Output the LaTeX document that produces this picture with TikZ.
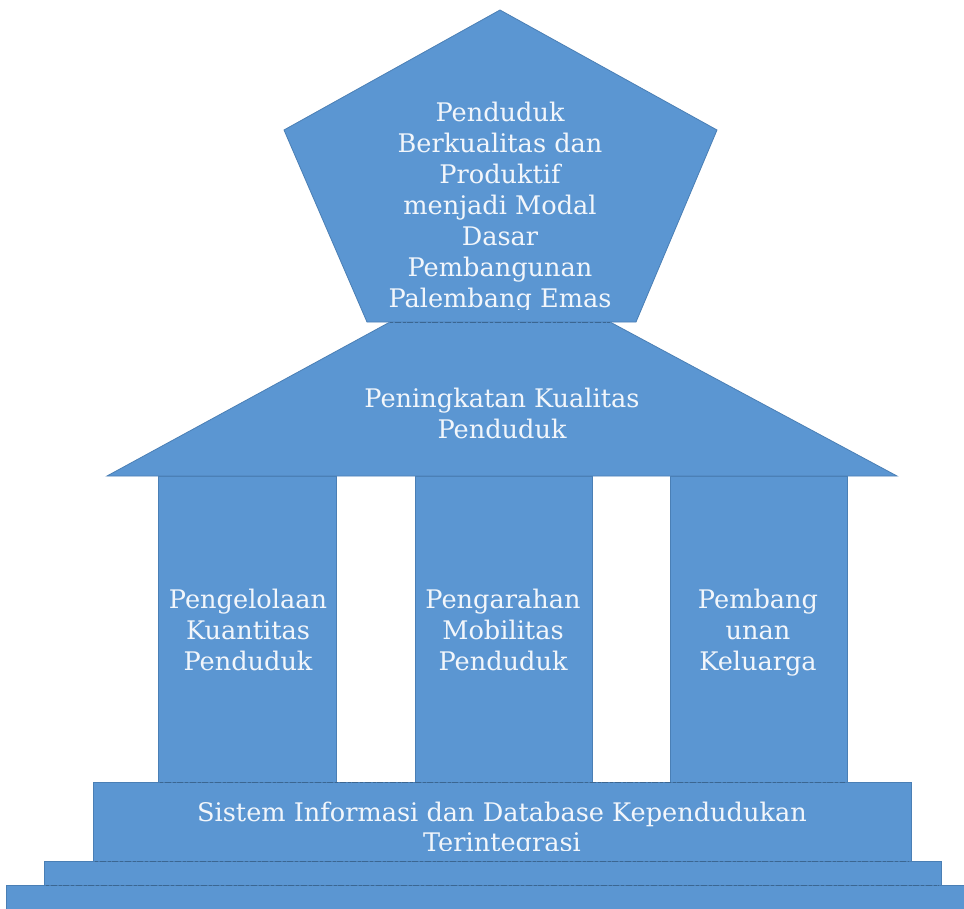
\documentclass[tikz,border=0pt]{standalone}
\usepackage{fontspec}
\setmainfont{DejaVu Serif}
\definecolor{fillblue}{HTML}{5B96D2}
\definecolor{edgeblue}{HTML}{4A7FB5}
\definecolor{txt}{HTML}{F2F6FB}
\tikzset{
  part/.style={fill=fillblue,draw=edgeblue,line width=0.8pt,line join=miter},
  label/.style={text=txt,align=center,inner sep=0pt,font=\fontsize{25.6}{31}\selectfont},
  seam/.style={draw=edgeblue!80!black,line width=1pt,dash pattern=on 3pt off 1.5pt on 6pt off 2pt},
}
\begin{document}
\begin{tikzpicture}[x=1pt,y=-1pt]
\useasboundingbox (0,0) rectangle (964,908);
\fill[white] (0,0) rectangle (964,908);
% steps
\draw[part] (6,885) rectangle (970,914);
\draw[part] (44,861) rectangle (941,885);
\draw[part] (93,782) rectangle (911,861);
% columns
\draw[part] (158,476) rectangle (336,782);
\draw[part] (415,476) rectangle (592,782);
\draw[part] (670,476) rectangle (847,782);
% roof
\draw[part] (390,322) -- (610,322) -- (897,476) -- (107,476) -- cycle;
% pentagon
\draw[part] (500,10) -- (717,130) -- (636,322) -- (367,322) -- (284,130) -- cycle;
% speckled seams
\draw[seam] (95,861) -- (909,861);
\draw[seam] (46,885) -- (939,885);
\draw[seam] (160,782) -- (845,782);
\draw[seam] (390,322) -- (610,322);
% labels
\begin{scope}
\clip (284,0) rectangle (717,309);
\node[label,anchor=base] (goal) at (500,307) {Penduduk\\Berkualitas dan\\Produktif\\menjadi Modal\\Dasar\\Pembangunan\\Palembang Emas};
\end{scope}
\node[label,anchor=base] (roof) at (502,438) {Peningkatan Kualitas\\Penduduk};
\node[label,anchor=base] (c1) at (248,670) {Pengelolaan\\Kuantitas\\Penduduk};
\node[label,anchor=base] (c2) at (503,670) {Pengarahan\\Mobilitas\\Penduduk};
\node[label,anchor=base] (c3) at (758,670) {Pembang\\unan\\Keluarga};
\begin{scope}
\clip (93,782) rectangle (911,850);
\node[label,anchor=base,font=\fontsize{25.6}{30}\selectfont] (base) at (502,851) {Sistem Informasi dan Database Kependudukan\\Terintegrasi};
\end{scope}
\end{tikzpicture}
\end{document}
